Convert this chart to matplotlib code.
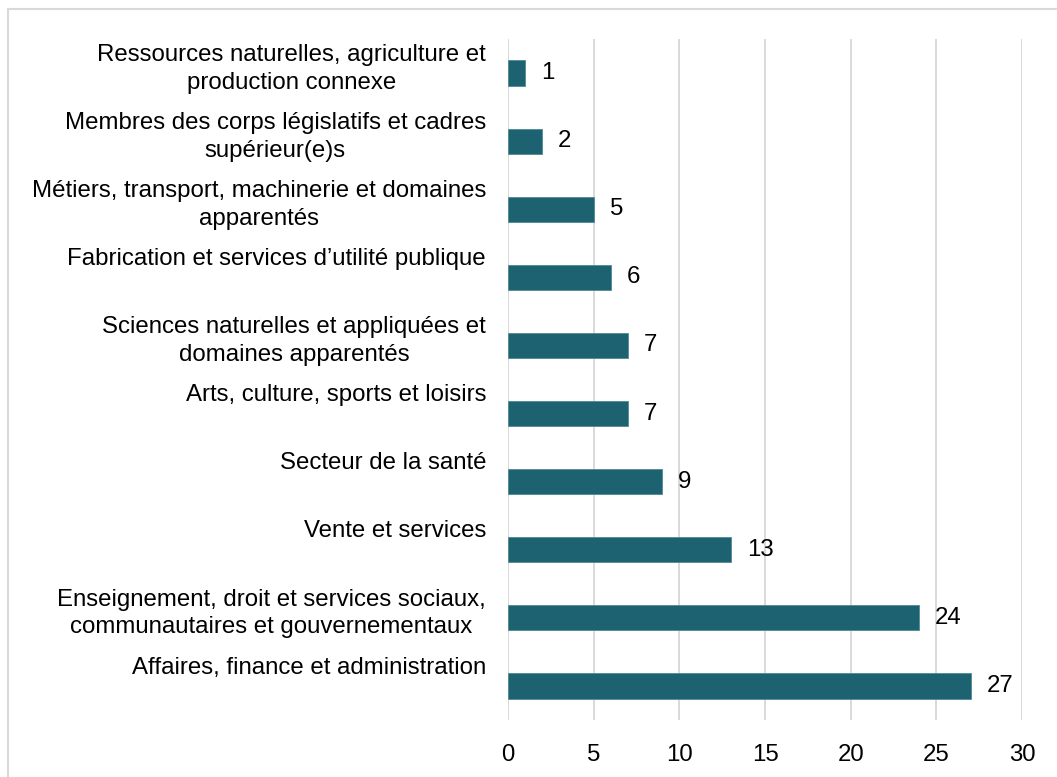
import matplotlib.pyplot as plt
from matplotlib.patches import Rectangle

# categories top -> bottom
categories = [
    "Ressources naturelles, agriculture et\nproduction connexe",
    "Membres des corps législatifs et cadres\nsupérieur(e)s",
    "Métiers, transport, machinerie et domaines\napparentés",
    "Fabrication et services d\u2019utilité publique",
    "Sciences naturelles et appliquées et\ndomaines apparentés",
    "Arts, culture, sports et loisirs",
    "Secteur de la santé",
    "Vente et services",
    "Enseignement, droit et services sociaux,\ncommunautaires et gouvernementaux",
    "Affaires, finance et administration",
]
values = [1, 2, 5, 6, 7, 7, 9, 13, 24, 27]
x_ticks = [0, 5, 10, 15, 20, 25, 30]

bar_color = "#1C6270"
grid_color = "#D9D9D9"
font_size = 17.3

plt.rcParams['font.family'] = ['Liberation Sans', 'DejaVu Sans']
plt.rcParams['font.size'] = font_size

fig = plt.figure(figsize=(10.57, 7.77), dpi=100)
ax = fig.add_axes([508 / 1057, 1 - 720 / 777, 514 / 1057, 681 / 777])

y = list(range(len(categories)))
ax.barh(y, values, height=0.37, color=bar_color, edgecolor="#4F8A95",
        linewidth=0.6, zorder=3)

ax.set_xlim(0, 30)
ax.set_ylim(len(categories) - 0.5, -0.5)
ax.set_xticks(x_ticks)
ax.set_yticks([])
ax.tick_params(axis='x', length=0, pad=17, labelsize=font_size)
ax.grid(axis='x', color=grid_color, linewidth=1.4, zorder=0)
for s in ax.spines.values():
    s.set_visible(False)

# category labels, first line sitting just above the bar
for i, lab in enumerate(categories):
    ax.annotate(lab, xy=(0, i - 0.43), xycoords=('axes fraction', 'data'),
                xytext=(-22 * 0.72, 0), textcoords='offset points',
                ha='right', va='top', multialignment='center',
                linespacing=1.34, fontsize=font_size, color='black')

# value labels
for i, v in enumerate(values):
    ax.annotate(str(v), xy=(v, i), xytext=(11.5, 0), textcoords='offset points',
                ha='left', va='center', fontsize=font_size, color='black')

# outer frame
fig.add_artist(Rectangle((8 / 1057, -0.1), 1.2, 1.1 - 9 / 777,
                         transform=fig.transFigure, fill=False,
                         edgecolor=grid_color, linewidth=1.5))

fig.savefig("out.png", dpi=100)
